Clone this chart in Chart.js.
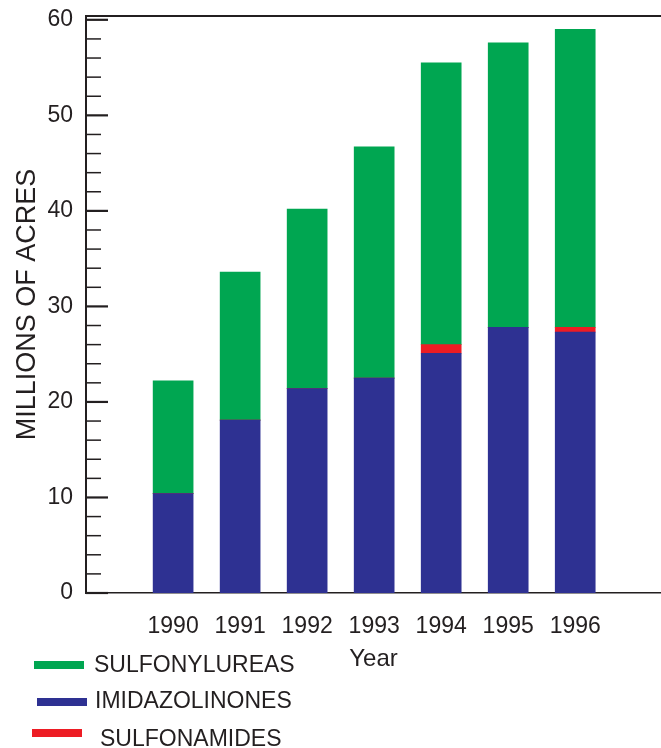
<!DOCTYPE html>
<html>
<head>
<meta charset="utf-8">
<script src="https://cdn.jsdelivr.net/npm/chart.js@4.4.0/dist/chart.umd.min.js"></script>
<style>
  body { margin: 0; background: #fff; }
  #wrap { position: relative; width: 661px; height: 748px; }
  #legend { position: absolute; left: 0; top: 0; font-family: Arial, "Liberation Sans", sans-serif; font-size: 23px; color: #231f20; }
  .box { position: absolute; width: 50px; height: 8px; }
  .txt { position: absolute; line-height: 28px; white-space: nowrap; }
</style>
</head>
<body>
<div id="wrap">
  <canvas id="barChart"></canvas>
  <div id="legend"></div>
</div>
<script>
let years = [1990, 1991, 1992, 1993, 1994, 1995, 1996];
let imidazolinones = [10.4, 18.1, 21.4, 22.5, 25.1, 27.8, 27.3];
let sulfonamides = [0, 0, 0, 0, 0.9, 0, 0.5];
let sulfonylureas = [11.8, 15.5, 18.8, 24.2, 29.5, 29.8, 31.2];
let yTicks = [0, 10, 20, 30, 40, 50, 60];

const ink = '#231f20';
const green = '#00a651';
const blue = '#2e3192';
const red = '#ed1c24';

// inward tick marks on the left axis, long ones for labelled values
const innerTicks = {
    id: 'innerTicks',
    afterDraw(chart) {
        const y = chart.scales.y;
        const c = chart.ctx;
        const left = chart.chartArea.left;
        c.save();
        c.strokeStyle = ink;
        y.ticks.forEach(t => {
            const major = yTicks.includes(t.value);
            const py = y.getPixelForValue(t.value);
            c.lineWidth = major ? 2.2 : 1.5;
            c.beginPath();
            c.moveTo(left, py);
            c.lineTo(left + (major ? 22 : 15), py);
            c.stroke();
        });
        // top frame line
        c.lineWidth = 2;
        c.beginPath();
        c.moveTo(left - 1, chart.chartArea.top);
        c.lineTo(chart.chartArea.right, chart.chartArea.top);
        c.stroke();
        c.restore();
    }
};

var ctx = document.getElementById('barChart').getContext('2d');
var barChart = new Chart(ctx, {
    type: 'bar',
    data: {
        labels: years,
        datasets: [
            { label: 'IMIDAZOLINONES', data: imidazolinones, backgroundColor: blue },
            { label: 'SULFONAMIDES', data: sulfonamides, backgroundColor: red },
            { label: 'SULFONYLUREAS', data: sulfonylureas, backgroundColor: green }
        ]
    },
    options: {
        responsive: true,
        maintainAspectRatio: false,
        animation: false,
        barThickness: 40,
        layout: { padding: { top: 16, bottom: 74, left: 0, right: 0 } },
        plugins: {
            legend: { display: false },
            tooltip: { enabled: false }
        },
        scales: {
            x: {
                type: 'linear',
                stacked: true,
                offset: false,
                min: 1988.7,
                max: 1997.28,
                grid: { display: false, drawTicks: false },
                border: { display: true, color: ink, width: 1.5 },
                afterBuildTicks: scale => {
                    scale.ticks = scale.ticks.filter(t => years.includes(t.value));
                },
                afterFit: scale => { scale.height = 81; },
                ticks: {
                    stepSize: 1,
                    padding: 20,
                    color: ink,
                    font: { family: 'Arial, "Liberation Sans", sans-serif', size: 23 },
                    callback: v => String(v)
                },
                title: {
                    display: true,
                    text: 'Year',
                    color: ink,
                    padding: { top: 0, bottom: 0 },
                    font: { family: 'Arial, "Liberation Sans", sans-serif', size: 24 }
                }
            },
            y: {
                stacked: true,
                min: 0,
                max: 60.4,
                grid: { display: false, drawTicks: false },
                border: { display: true, color: ink, width: 2 },
                afterFit: scale => {
                    scale.width = 86;
                    scale.paddingTop = 0;
                    scale.paddingBottom = 0;
                },
                ticks: {
                    stepSize: 2,
                    includeBounds: false,
                    padding: 13,
                    autoSkip: false,
                    color: ink,
                    font: { family: 'Arial, "Liberation Sans", sans-serif', size: 23 },
                    callback: v => yTicks.includes(v) ? String(v) : ''
                },
                title: {
                    display: true,
                    text: 'MILLIONS OF ACRES',
                    color: ink,
                    padding: { top: 11, bottom: 0 },
                    font: { family: 'Arial, "Liberation Sans", sans-serif', size: 27 }
                }
            }
        }
    },
    plugins: [innerTicks]
});

// legend below the plot, one row per series (rows are a little uneven in the original)
let legendOrder = ['SULFONYLUREAS', 'IMIDAZOLINONES', 'SULFONAMIDES'];
let legendBoxY = [665, 702, 733];
let legendBoxX = [34, 37, 32];
let legendTextY = [664, 700, 738];
let legendTextX = [94, 95, 100];
const legendBox = document.getElementById('legend');
legendOrder.forEach((name, i) => {
    const ds = barChart.data.datasets.find(d => d.label === name);
    const box = document.createElement('div');
    box.classList.add('box');
    box.style.background = ds.backgroundColor;
    box.style.left = legendBoxX[i] + 'px';
    box.style.top = (legendBoxY[i] - 4) + 'px';
    const txt = document.createElement('div');
    txt.classList.add('txt');
    txt.style.left = legendTextX[i] + 'px';
    txt.style.top = (legendTextY[i] - 14) + 'px';
    txt.textContent = name;
    legendBox.appendChild(box);
    legendBox.appendChild(txt);
});
</script>
</body>
</html>
